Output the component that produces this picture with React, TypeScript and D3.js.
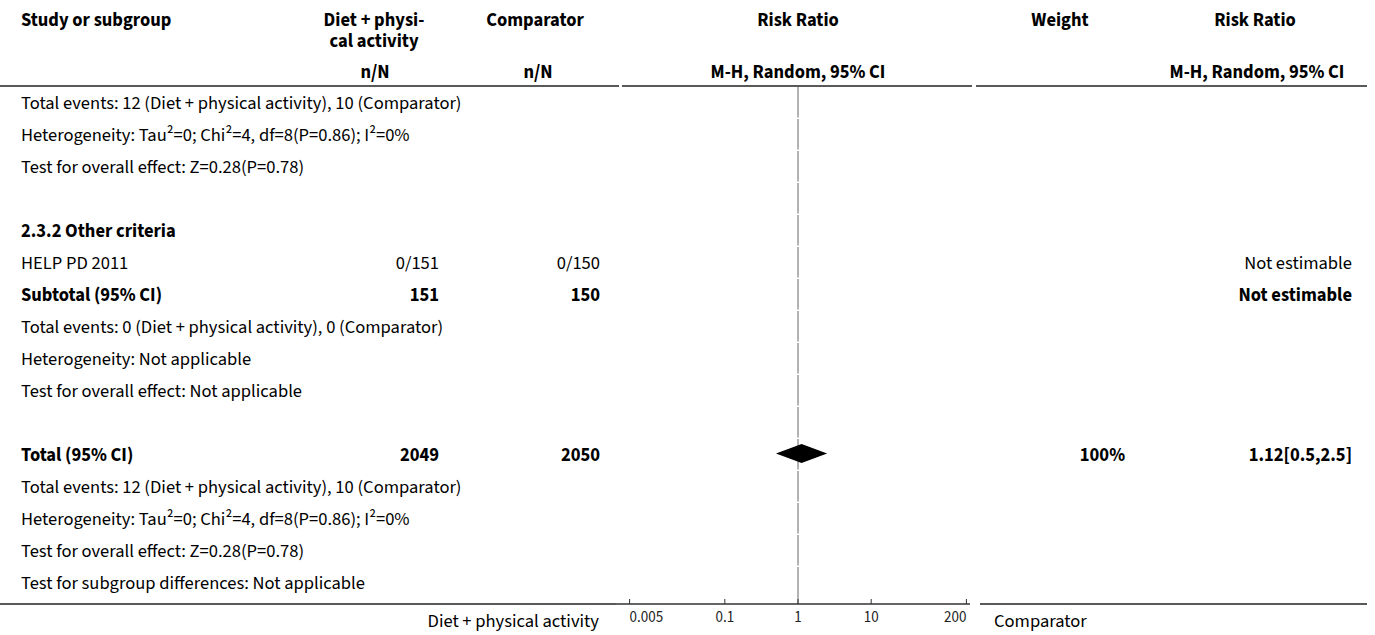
import React, { useEffect, useRef } from "react";
import * as d3 from "d3";

// rows of the forest plot, top to bottom ("" = blank spacer row)
const rowLabels = [
  "Total events: 12 (Diet + physical activity), 10 (Comparator)",
  "Heterogeneity: Tau²=0; Chi²=4, df=8(P=0.86); I²=0%",
  "Test for overall effect: Z=0.28(P=0.78)",
  "",
  "2.3.2 Other criteria",
  "HELP PD 2011",
  "Subtotal (95% CI)",
  "Total events: 0 (Diet + physical activity), 0 (Comparator)",
  "Heterogeneity: Not applicable",
  "Test for overall effect: Not applicable",
  "",
  "Total (95% CI)",
  "Total events: 12 (Diet + physical activity), 10 (Comparator)",
  "Heterogeneity: Tau²=0; Chi²=4, df=8(P=0.86); I²=0%",
  "Test for overall effect: Z=0.28(P=0.78)",
  "Test for subgroup differences: Not applicable",
];
const boldRows = [4, 6, 11];
const dietCounts = ["", "", "", "", "", "0/151", "151", "", "", "", "", "2049", "", "", "", ""];
const compCounts = ["", "", "", "", "", "0/150", "150", "", "", "", "", "2050", "", "", "", ""];
const weights = ["", "", "", "", "", "", "", "", "", "", "", "100%", "", "", "", ""];
const estimates = ["", "", "", "", "", "Not estimable", "Not estimable", "", "", "", "", "1.12[0.5,2.5]", "", "", "", ""];

// pooled estimate (diamond)
const pooledRow = 11;
const pooledRR = 1.12;
const pooledLow = 0.5;
const pooledHigh = 2.5;

const tickValues = [0.005, 0.1, 1, 10, 200];
const tickLabels = ["0.005", "0.1", "1", "10", "200"];

const FONT = "'Source Sans Pro', 'Source Sans 3', Lato, sans-serif";
const FS = 18.5;

export default function App() {
  const ref = useRef<SVGSVGElement>(null);

  useEffect(() => {
    const width = 1375;
    const height = 635;
    const top = 86;
    const rowH = 32;
    const bottom = top + rowH * rowLabels.length;
    const axisY = bottom + 6;

    const svg = d3.select(ref.current);
    svg.selectAll("*").remove();
    svg.attr("width", width).attr("height", height).style("font-family", FONT);

    const y = d3
      .scaleBand<number>()
      .domain(d3.range(rowLabels.length))
      .range([top, bottom]);
    const mid = (i: number) => (y(i) as number) + y.bandwidth() / 2;

    const x = d3.scaleLog().domain([0.005, 200]).range([629.6, 966.4]);

    // header
    const head = svg.append("g").attr("font-weight", "bold").attr("font-size", FS);
    const hText = (tx: number, ty: number, s: string, anchor = "middle") =>
      head.append("text").attr("x", tx).attr("y", ty).attr("text-anchor", anchor).text(s);
    hText(21, 26, "Study or subgroup", "start");
    // two-line header kept in one text element
    const diet = head.append("text").attr("text-anchor", "middle");
    diet.append("tspan").attr("x", 374).attr("y", 26).text("Diet + physi-");
    diet.append("tspan").attr("x", 374).attr("y", 47).text("cal activity");
    hText(375, 78, "n/N");
    hText(535, 26, "Comparator");
    hText(538, 78, "n/N");
    hText(x(1), 26, "Risk Ratio");
    hText(x(1), 78, "M-H, Random, 95% CI");
    hText(1060, 26, "Weight");
    hText(1255, 26, "Risk Ratio");
    hText(1257, 78, "M-H, Random, 95% CI");

    // header rule (segmented under the columns)
    const headSegs = [[0, 619], [622, 972], [976, 1367]];
    svg
      .append("g")
      .selectAll("line")
      .data(headSegs)
      .join("line")
      .attr("x1", (d) => d[0])
      .attr("x2", (d) => d[1])
      .attr("y1", top)
      .attr("y2", top)
      .attr("stroke", "#222")
      .attr("stroke-width", 1.5);

    // line of no effect, broken at each row edge
    svg
      .append("g")
      .selectAll("line")
      .data(d3.range(rowLabels.length))
      .join("line")
      .attr("x1", x(1))
      .attr("x2", x(1))
      .attr("y1", (i) => (y(i) as number) + 1)
      .attr("y2", (i) => (i === rowLabels.length - 1 ? axisY : (y(i) as number) + y.bandwidth() - 0.5))
      .attr("stroke", "#9a9a9a")
      .attr("stroke-width", 1.5);

    // row texts
    const rows = svg.append("g").attr("font-size", FS);
    const weightOf = (i: number) => (boldRows.includes(i) ? "bold" : "normal");

    rows
      .selectAll("text.label")
      .data(d3.range(rowLabels.length))
      .join("text")
      .attr("class", "label")
      .attr("x", 21)
      .attr("y", (i) => mid(i) + 7)
      .attr("font-weight", weightOf)
      .text((i) => rowLabels[i]);

    const rightCol = (cls: string, vals: string[], xr: number) =>
      rows
        .selectAll("text." + cls)
        .data(d3.range(vals.length).filter((i) => vals[i] !== ""))
        .join("text")
        .attr("class", cls)
        .attr("x", xr)
        .attr("y", (i) => mid(i) + 7)
        .attr("text-anchor", "end")
        .attr("font-weight", weightOf)
        .text((i) => vals[i]);

    rightCol("diet", dietCounts, 439);
    rightCol("comp", compCounts, 600);
    rightCol("wt", weights, 1125);
    rightCol("est", estimates, 1352);

    // pooled diamond
    const cy = mid(pooledRow) - 0.5;
    const h = 9.5;
    const diamond = d3.line()([
      [x(pooledLow), cy],
      [x(pooledRR), cy - h],
      [x(pooledHigh), cy],
      [x(pooledRR), cy + h],
    ]);
    svg.append("path").attr("d", diamond + "Z").attr("fill", "#000");

    // bottom rule + axis
    const bottomSegs = [[0, 616], [980, 1367]];
    svg
      .append("g")
      .selectAll("line")
      .data(bottomSegs)
      .join("line")
      .attr("x1", (d) => d[0])
      .attr("x2", (d) => d[1])
      .attr("y1", axisY)
      .attr("y2", axisY)
      .attr("stroke", "#222")
      .attr("stroke-width", 1.5);

    svg
      .append("line")
      .attr("x1", 616)
      .attr("x2", 970)
      .attr("y1", axisY)
      .attr("y2", axisY)
      .attr("stroke", "#333")
      .attr("stroke-width", 1.3);

    svg
      .append("g")
      .selectAll("line")
      .data(tickValues)
      .join("line")
      .attr("x1", (d) => x(d))
      .attr("x2", (d) => x(d))
      .attr("y1", axisY)
      .attr("y2", axisY - 5)
      .attr("stroke", "#333")
      .attr("stroke-width", 1);

    const last = tickValues.length - 1;
    svg
      .append("g")
      .attr("font-size", 15)
      .attr("fill", "#222")
      .selectAll("text")
      .data(tickValues)
      .join("text")
      .attr("x", (d) => x(d))
      .attr("y", axisY + 18)
      .attr("text-anchor", (d, i) => (i === 0 ? "start" : i === last ? "end" : "middle"))
      .text((d, i) => tickLabels[i]);

    svg
      .append("text")
      .attr("x", 599)
      .attr("y", axisY + 23)
      .attr("text-anchor", "end")
      .attr("font-size", FS)
      .text("Diet + physical activity");
    svg
      .append("text")
      .attr("x", 994)
      .attr("y", axisY + 23)
      .attr("font-size", FS)
      .text("Comparator");
  }, []);

  return (
    <svg
      ref={ref}
      style={{ position: "absolute", left: 0, top: 0, display: "block" }}
    ></svg>
  );
}
